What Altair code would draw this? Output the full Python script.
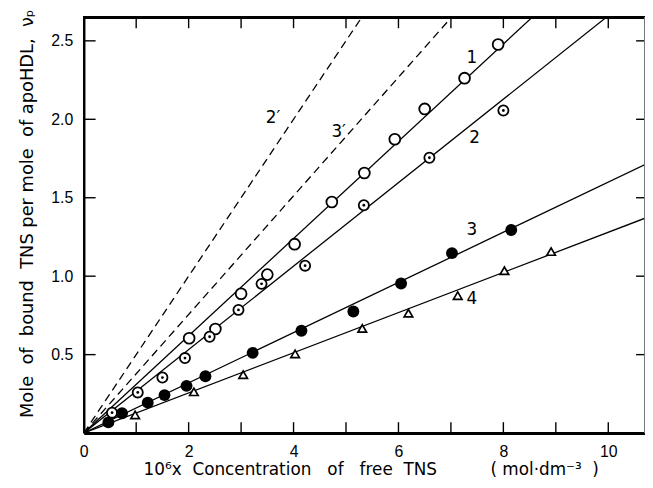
import altair as alt
import pandas as pd

# ---- data ----
s1_x = [2.01, 2.51, 3.0, 3.5, 4.02, 4.73, 5.35, 5.93, 6.5, 7.26, 7.9]
s1_y = [0.604, 0.663, 0.888, 1.01, 1.204, 1.473, 1.658, 1.873, 2.066, 2.262, 2.477]

s2_x = [0.54, 1.03, 1.5, 1.93, 2.4, 2.95, 3.39, 4.22, 5.34, 6.59, 8.0]
s2_y = [0.13, 0.259, 0.354, 0.478, 0.614, 0.785, 0.951, 1.067, 1.452, 1.755, 2.056]

s3_x = [0.47, 0.73, 1.22, 1.54, 1.96, 2.32, 3.22, 4.15, 5.14, 6.05, 7.02, 8.15]
s3_y = [0.068, 0.126, 0.194, 0.242, 0.301, 0.362, 0.511, 0.652, 0.775, 0.953, 1.147, 1.294]

s4_x = [0.98, 2.1, 3.04, 4.03, 5.31, 6.19, 7.13, 8.02, 8.91]
s4_y = [0.116, 0.263, 0.372, 0.505, 0.667, 0.764, 0.876, 1.035, 1.157]

solid_names = ["1", "2", "3", "4"]
solid_slopes = [0.31, 0.266, 0.16, 0.128]
dashed_names = ["2′", "3′"]
dashed_slopes = [0.5, 0.378]

label_text = ["1", "2", "3", "4", "3′", "2′"]
label_x = [7.40, 7.45, 7.40, 7.40, 4.86, 3.61]
label_y = [2.393, 1.878, 1.294, 0.857, 1.919, 2.008]

x_tick_values = [1, 2, 3, 4, 5, 6, 7, 8, 9, 10]
x_label_values = [0, 2, 4, 6, 8, 10]
y_tick_values = [0.5, 1.0, 1.5, 2.0, 2.5]

X_MAX = 10.7
Y_MAX = 2.65
W, H = 567, 420

NB = "\u00a0"
x_title = ("10⁶x" + NB * 2 + "Concentration" + NB * 3 + "of" + NB * 3 + "free" + NB * 2 + "TNS"
           + NB * 10 + "(" + NB + "mol·dm⁻³" + NB * 2 + ")")
y_title = ("Mole" + NB * 2 + "of" + NB * 2 + "bound" + NB * 2 + "TNS" + NB + "per" + NB
           + "mole" + NB * 2 + "of" + NB + "apoHDL," + NB * 2 + "νₚ")

xs = alt.Scale(domain=[0, X_MAX], nice=False, zero=False)
ys = alt.Scale(domain=[0, Y_MAX], nice=False, zero=False)


def line_df(names, slopes):
    rows = []
    for n, s in zip(names, slopes):
        x_end = min(X_MAX, Y_MAX / s)
        rows.append({"series": n, "x": 0.0, "y": 0.0})
        rows.append({"series": n, "x": x_end, "y": s * x_end})
    return pd.DataFrame(rows)


solid_df = line_df(solid_names, solid_slopes)
dashed_df = line_df(dashed_names, dashed_slopes)

d1 = pd.DataFrame({"x": s1_x, "y": s1_y})
d2 = pd.DataFrame({"x": s2_x, "y": s2_y})
d3 = pd.DataFrame({"x": s3_x, "y": s3_y})
d4 = pd.DataFrame({"x": s4_x, "y": s4_y})
lab = pd.DataFrame({"x": label_x, "y": label_y, "t": label_text})
xt = pd.DataFrame({"x": x_tick_values})
yt = pd.DataFrame({"y": y_tick_values})

x_axis = alt.Axis(
    values=x_label_values, format="d", tickSize=0, labelPadding=19,
    labelBaseline="middle", labelFlush=False,
    labelFont="Liberation Sans", labelFontSize=16, labelColor="black",
    domainColor="black", domainWidth=3, grid=False,
    title=x_title,
    titleFont="DejaVu Sans", titleFontSize=17, titleFontWeight="normal",
    titleColor="black", titleX=60, titleY=42, titleAlign="left",
    titleBaseline="alphabetic",
)
y_axis = alt.Axis(
    values=y_tick_values, format=".1f", tickSize=0, labelPadding=11,
    labelFont="Liberation Sans", labelFontSize=16, labelColor="black",
    domainColor="black", domainWidth=2.5, grid=False,
    title=y_title,
    titleFont="DejaVu Sans", titleFontSize=18, titleFontWeight="normal",
    titleColor="black", titleAngle=270, titleX=-57, titleY=198,
    titleAlign="center", titleBaseline="middle",
)

solid = alt.Chart(solid_df).mark_line(color="black", strokeWidth=1.3, clip=True).encode(
    x=alt.X("x:Q", scale=xs, axis=x_axis),
    y=alt.Y("y:Q", scale=ys, axis=y_axis),
    detail="series:N",
)
dashed = alt.Chart(dashed_df).mark_line(
    color="black", strokeWidth=1.3, strokeDash=[8, 5], clip=True
).encode(
    x=alt.X("x:Q", scale=xs), y=alt.Y("y:Q", scale=ys), detail="series:N"
)

open_c = alt.Chart(d1).mark_point(
    shape="circle", filled=True, fill="white", stroke="black", strokeWidth=1.8,
    size=120, opacity=1,
).encode(x=alt.X("x:Q", scale=xs), y=alt.Y("y:Q", scale=ys))

dot_c = alt.Chart(d2).mark_point(
    shape="circle", filled=True, fill="white", stroke="black", strokeWidth=1.8,
    size=105, opacity=1,
).encode(x=alt.X("x:Q", scale=xs), y=alt.Y("y:Q", scale=ys))
dot_c2 = alt.Chart(d2).mark_point(
    shape="circle", filled=True, color="black", size=8, opacity=1,
).encode(x=alt.X("x:Q", scale=xs), y=alt.Y("y:Q", scale=ys))

fill_c = alt.Chart(d3).mark_point(
    shape="circle", filled=True, color="black", size=145, opacity=1,
).encode(x=alt.X("x:Q", scale=xs), y=alt.Y("y:Q", scale=ys))

tri = alt.Chart(d4).mark_point(
    shape="triangle-up", filled=True, fill="white", stroke="black",
    strokeWidth=1.7, size=75, opacity=1,
).encode(x=alt.X("x:Q", scale=xs), y=alt.Y("y:Q", scale=ys))

labels = alt.Chart(lab).mark_text(
    font="DejaVu Sans", fontSize=17, color="black", align="center", baseline="middle"
).encode(x=alt.X("x:Q", scale=xs), y=alt.Y("y:Q", scale=ys), text="t:N")

bottom_ticks = alt.Chart(xt).mark_rule(color="black", strokeWidth=1.4).encode(
    x=alt.X("x:Q", scale=xs), y=alt.value(H), y2=alt.value(H - 11)
)
top_ticks = alt.Chart(xt).mark_rule(color="black", strokeWidth=1.4).encode(
    x=alt.X("x:Q", scale=xs), y=alt.value(0), y2=alt.value(11)
)
left_ticks = alt.Chart(yt).mark_rule(color="black", strokeWidth=1.4).encode(
    y=alt.Y("y:Q", scale=ys), x=alt.value(0), x2=alt.value(12)
)
right_ticks = alt.Chart(yt).mark_rule(color="black", strokeWidth=1.4).encode(
    y=alt.Y("y:Q", scale=ys), x=alt.value(W), x2=alt.value(W - 9)
)
top_border = alt.Chart(xt).mark_rule(color="black", strokeWidth=2.5).encode(
    x=alt.value(0), x2=alt.value(W), y=alt.value(0)
)
right_border = alt.Chart(xt).mark_rule(color="#777777", strokeWidth=1).encode(
    x=alt.value(W), y=alt.value(0), y2=alt.value(H)
)

chart = alt.layer(
    solid, dashed, bottom_ticks, top_ticks, left_ticks, right_ticks,
    top_border, right_border, open_c, dot_c, dot_c2, fill_c, tri, labels,
).properties(
    width=W, height=H,
    autosize=alt.AutoSizeParams(type="none"),
    padding={"left": 76.5, "top": 7, "right": 0, "bottom": 45},
    background="white",
).configure_view(stroke=None)

chart.save("out.html", embed_options={"renderer": "svg", "actions": False})
